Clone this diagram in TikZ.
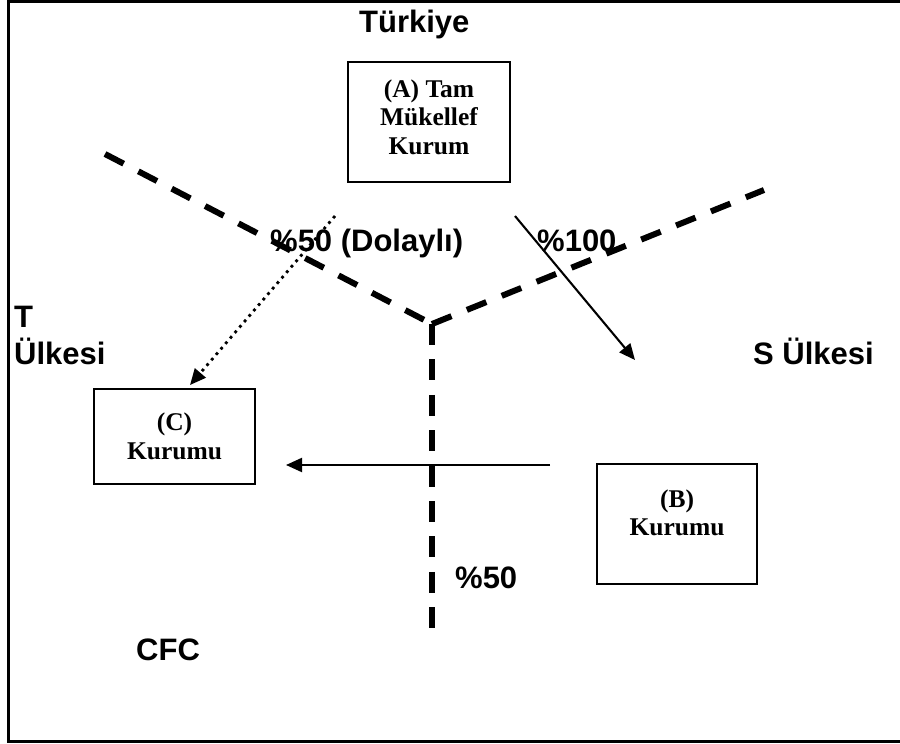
\documentclass[tikz,border=0pt]{standalone}
\usepackage{fontspec}
\setmainfont{Liberation Serif}
\newfontfamily\labelsans{Liberation Sans}
\usetikzlibrary{arrows.meta}
\begin{document}
\begin{tikzpicture}[x=1pt,y=-1pt,
  region/.style={font=\labelsans\bfseries\fontsize{31}{37}\selectfont,
    inner sep=0pt, anchor=base west},
  entity/.style={draw, line width=1.9pt, align=center, inner sep=0pt,
    font=\bfseries\fontsize{25.5}{28.5}\selectfont},
  border/.style={line width=6pt, dash pattern=on 21pt off 16.6pt},
  tip/.style={-{Triangle[length=16pt,width=14pt]}},
  link/.style={tip, line width=2.1pt},
  indirect/.style={tip, line width=2.8pt, dash pattern=on 2.8pt off 4.4pt},
  frame/.style={line width=3pt}
]
\useasboundingbox (0,0) rectangle (900,744);

% outer frame (open on the right)
\draw[frame] (905,1) -- (8.5,1) -- (8.5,741) -- (905,741);

% country borders meeting in one point
\coordinate (J) at (432,324);
\coordinate (Lend) at (105,154);
\coordinate (Rend) at (764,190);
\coordinate (Bend) at (432,628);
\draw[border] (Lend) -- (J);
\draw[border] (J) -- (Rend);
\draw[border, dash pattern=on 21pt off 14.4pt] (J) -- (Bend);

% companies
\node[entity, minimum width=162pt, minimum height=120pt] (A) at (429,122)
  {(A) Tam\\Mükellef\\Kurum\rule[-10pt]{0pt}{0pt}};
\node[entity, minimum width=161pt, minimum height=95pt] (C) at (174.5,436.5)
  {(C)\\Kurumu};
\node[entity, minimum width=160pt, minimum height=120pt] (B) at (677,524)
  {(B)\\Kurumu\rule[-23pt]{0pt}{0pt}};

% region and share labels
\node[region] (tr) at (359,32) {Türkiye};
\node[region] (dolayli) at (270,251) {\%50 (Dolaylı)};
\node[region] (yuz) at (537,251) {\%100};
\node[region] (s) at (753,364) {S Ülkesi};
\node[region] (tT) at (14,327) {T};
\node[region] (tU) at (14,364) {Ülkesi};
\node[region] (elli) at (455,588) {\%50};
\node[region] (cfc) at (136,660) {CFC};

% ownership arrows
\coordinate (d0) at (335,216);
\coordinate (d1) at ([xshift=15.5pt,yshift=3pt]C.north);
\draw[indirect] (d0) -- (d1);

\coordinate (s0) at (515,216);
\coordinate (s1) at (635,360);
\draw[link] (s0) -- (s1);

\coordinate (h0) at (550,465);
\coordinate (h1) at (286,465);
\draw[link] (h0) -- (h1);
\end{tikzpicture}
\end{document}
